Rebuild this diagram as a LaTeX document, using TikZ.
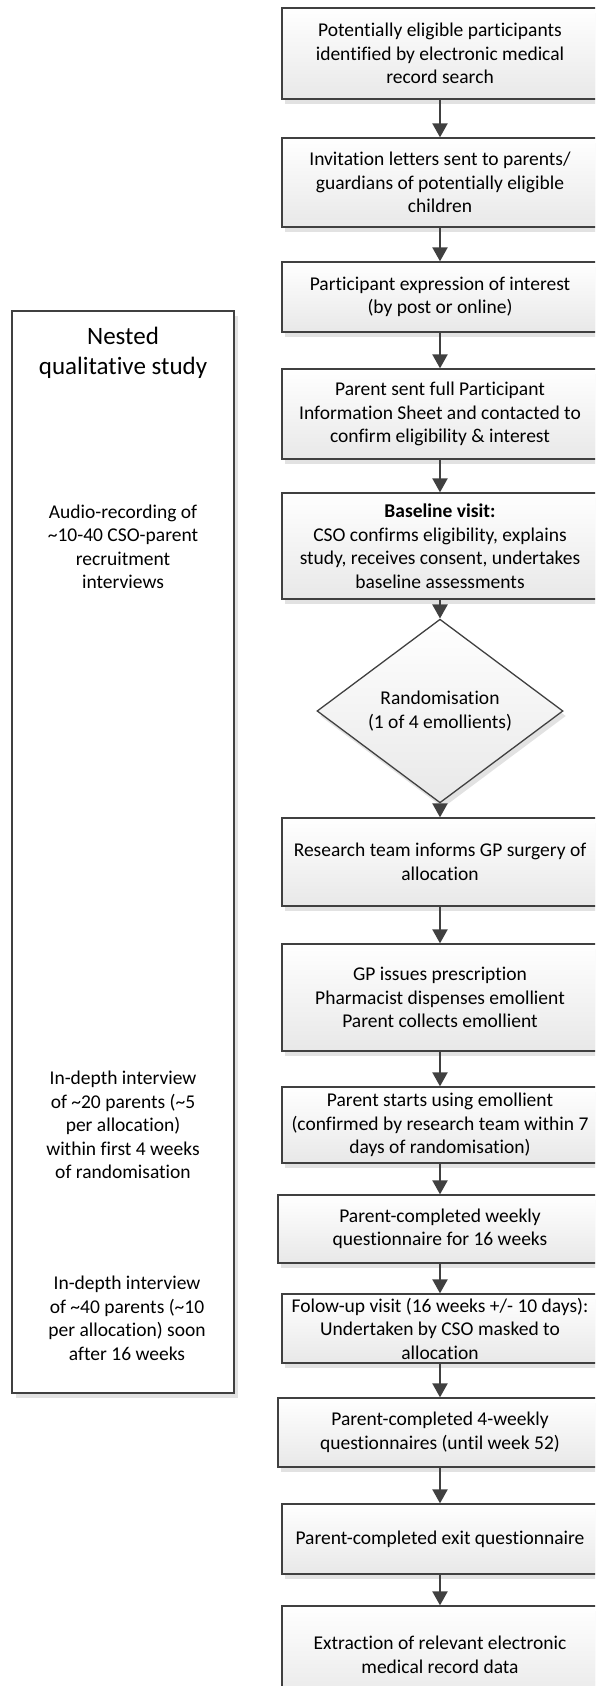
\documentclass[tikz,border=0pt]{standalone}
\usepackage{fontspec}
\setmainfont{Carlito}[Ligatures={NoCommon}]
\usetikzlibrary{shapes.geometric,shadows,arrows.meta}

\definecolor{linegray}{HTML}{404040}
\definecolor{shadowgray}{HTML}{E2E2E2}

\begin{document}
\begin{tikzpicture}[x=1pt, y=-1pt,
	stepbox/.style={draw=linegray, line width=1.3pt,
		top color=white, bottom color=black!9,
		drop shadow={shadow xshift=3pt, shadow yshift=-5pt, fill=shadowgray, opacity=1},
		minimum width=316pt, inner sep=0pt, align=center,
		font=\fontsize{19.5}{23.5}\selectfont},
	decision/.style={stepbox, shape=diamond, minimum width=246pt,
		minimum height=158pt},
	panel/.style={draw=linegray, line width=1.3pt, fill=white,
		drop shadow={shadow xshift=4pt, shadow yshift=-5pt, fill=shadowgray, opacity=1},
		minimum width=222pt, inner sep=0pt},
	note/.style={align=center, inner sep=0pt, font=\fontsize{19.5}{23.5}\selectfont},
	flow/.style={draw=linegray, line width=2.2pt,
		-{Triangle[width=15pt,length=14pt]}}]

	\def\xc{440} % centre of the main column

	\useasboundingbox (0,0) rectangle (595,1686);
	\clip (0,0) rectangle (595,1686);

	% nested qualitative study
	\node[panel, minimum height=1082pt] (qual) at (123,852) {};
	\node[note, font=\fontsize{25}{30}\selectfont] (qualtitle) at (123,353)
	{Nested\\qualitative study};
	\node[note] (audio) at (123,547)
	{Audio-recording of\\\textasciitilde10-40 CSO-parent\\recruitment\\interviews};
	\node[note] (early) at (123,1125)
	{In-depth interview\\of \textasciitilde20 parents (\textasciitilde5\\per allocation)\\within first 4 weeks\\of randomisation};
	\node[note] (late) at (127,1318.5)
	{In-depth interview\\of \textasciitilde40 parents (\textasciitilde10\\per allocation) soon\\after 16 weeks};

	% recruitment
	\node[stepbox, minimum height=91pt] (search) at (\xc,53.5)
	{Potentially eligible participants\\identified by electronic medical\\record search};
	\node[stepbox, minimum height=89pt] (invite) at (\xc,182.5)
	{Invitation letters sent to parents/\\guardians of potentially eligible\\children};
	\node[stepbox, minimum height=70pt] (interest) at (\xc,297)
	{Participant expression of interest\\(by post or online)};
	\node[stepbox, minimum height=90pt] (pis) at (\xc,414)
	{Parent sent full Participant\\Information Sheet and contacted to\\confirm eligibility \& interest};
	\node[stepbox, minimum height=106pt] (baseline) at (\xc,546)
	{\textbf{Baseline visit:}\\CSO confirms eligibility, explains\\study, receives consent, undertakes\\baseline assessments};

	% randomisation
	\node[decision] (random) at (\xc,711)
	{Randomisation\\(1 of 4 emollients)};

	% follow-up
	\node[stepbox, minimum height=88pt] (inform) at (\xc,862)
	{Research team informs GP surgery of\\allocation};
	\node[stepbox, minimum height=107pt] (prescribe) at (\xc,997.5)
	{GP issues prescription\\Pharmacist dispenses emollient\\Parent collects emollient};
	\node[stepbox, minimum height=76pt] (start) at (\xc,1125)
	{Parent starts using emollient\\(confirmed by research team within 7\\days of randomisation)};
	\node[stepbox, minimum height=68pt, minimum width=324pt] (weekly) at (\xc,1229)
	{Parent-completed weekly\\questionnaire for 16 weeks};
	\node[stepbox, minimum height=69pt] (visit) at (\xc,1328.5)
	{Folow-up visit (16 weeks +/- 10 days):\\Undertaken by CSO masked to\\allocation};
	\node[stepbox, minimum height=69pt, minimum width=324pt] (monthly) at (\xc,1432.5)
	{Parent-completed 4-weekly\\questionnaires (until week 52)};
	\node[stepbox, minimum height=70pt] (exit) at (\xc,1539)
	{Parent-completed exit questionnaire};
	\node[stepbox, minimum height=98pt] (extract) at (\xc,1655)
	{Extraction of relevant electronic\\medical record data};

	% arrows
	\draw[flow] (search) -- (invite);
	\draw[flow] (invite) -- (interest);
	\draw[flow] (interest) -- (pis);
	\draw[flow] (pis) -- (baseline);
	\draw[flow] (baseline) -- (random);
	\draw[flow] (random) -- (inform);
	\draw[flow] (inform) -- (prescribe);
	\draw[flow] (prescribe) -- (start);
	\draw[flow] (start) -- (weekly);
	\draw[flow] (weekly) -- (visit);
	\draw[flow] (visit) -- (monthly);
	\draw[flow] (monthly) -- (exit);
	\draw[flow] (exit) -- (extract);

\end{tikzpicture}
\end{document}
